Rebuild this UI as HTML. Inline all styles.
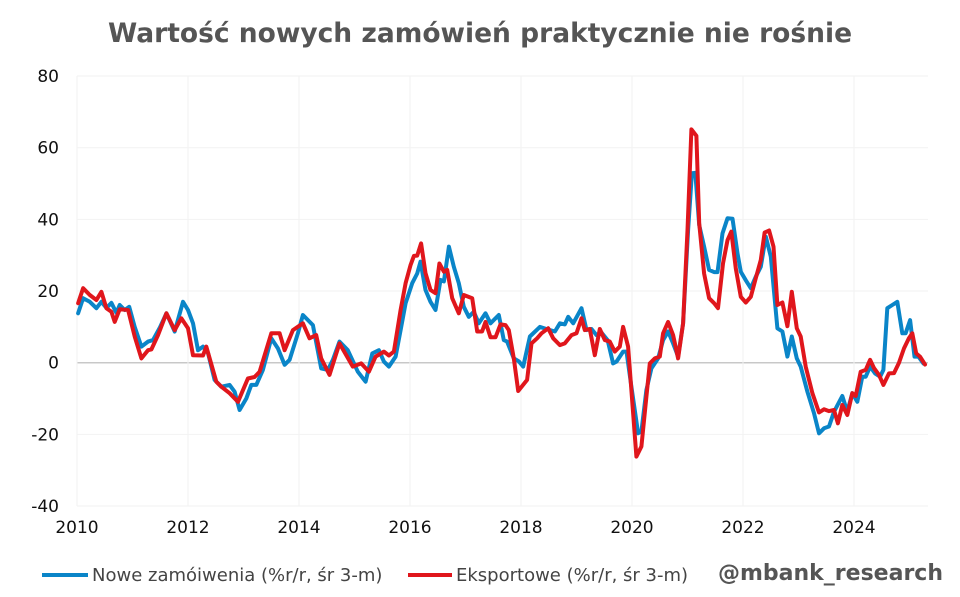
<!DOCTYPE html>
<html><head><meta charset="utf-8"><style>
body{margin:0;background:#fff;width:960px;height:592px;overflow:hidden;font-family:"Liberation Sans",sans-serif}
</style></head><body>
<svg id="c" width="960" height="592" viewBox="0 0 960 592">
<text x="480" y="42" text-anchor="middle" font-family="DejaVu Sans, Liberation Sans, sans-serif" font-weight="bold" font-size="26.5" fill="#555">Wartość nowych zamówień praktycznie nie rośnie</text>
<g id="grid"></g><g id="axes"></g><g id="series"></g>
<g>
<line x1="42" y1="575" x2="88" y2="575" stroke="#0a85c8" stroke-width="4"/>
<text x="92" y="581" font-size="18" fill="#444" font-family="DejaVu Sans, Liberation Sans, sans-serif">Nowe zamóiwenia (%r/r, śr 3-m)</text>
<line x1="408" y1="575" x2="452" y2="575" stroke="#e0161c" stroke-width="4"/>
<text x="456" y="581" font-size="18" fill="#444" font-family="DejaVu Sans, Liberation Sans, sans-serif">Eksportowe (%r/r, śr 3-m)</text>
</g>
<text x="943" y="580" text-anchor="end" font-size="22" font-weight="bold" fill="#555" font-family="DejaVu Sans, Liberation Sans, sans-serif">@mbank_research</text>
</svg>
<script>
const yTicks=[80,60,40,20,0,-20,-40];
const xTicks=[2010,2012,2014,2016,2018,2020,2022,2024];
const nowDates=[2010.02,2010.11,2010.23,2010.35,2010.44,2010.53,2010.62,2010.71,2010.77,2010.86,2010.94,2011.04,2011.16,2011.28,2011.37,2011.49,2011.61,2011.76,2011.91,2012.0,2012.09,2012.18,2012.27,2012.36,2012.48,2012.6,2012.75,2012.84,2012.93,2013.05,2013.14,2013.23,2013.35,2013.5,2013.62,2013.74,2013.83,2013.98,2014.07,2014.25,2014.4,2014.52,2014.61,2014.73,2014.88,2015.06,2015.2,2015.32,2015.44,2015.53,2015.62,2015.74,2015.83,2015.92,2016.04,2016.13,2016.19,2016.28,2016.37,2016.46,2016.55,2016.61,2016.7,2016.79,2016.88,2016.97,2017.06,2017.15,2017.24,2017.36,2017.45,2017.6,2017.69,2017.75,2017.87,2017.96,2018.04,2018.16,2018.34,2018.52,2018.61,2018.7,2018.79,2018.85,2018.94,2019.09,2019.18,2019.27,2019.36,2019.45,2019.56,2019.66,2019.72,2019.84,2019.9,2019.99,2020.11,2020.17,2020.26,2020.35,2020.47,2020.56,2020.65,2020.74,2020.83,2020.92,2021.01,2021.08,2021.14,2021.21,2021.3,2021.39,2021.48,2021.54,2021.63,2021.72,2021.81,2021.9,2021.96,2022.05,2022.14,2022.23,2022.32,2022.41,2022.5,2022.62,2022.71,2022.8,2022.88,2022.97,2023.04,2023.16,2023.28,2023.37,2023.46,2023.55,2023.64,2023.79,2023.88,2023.97,2024.06,2024.15,2024.21,2024.29,2024.38,2024.47,2024.53,2024.6,2024.69,2024.78,2024.87,2024.93,2025.01,2025.09,2025.16,2025.25];
const nowValues=[13.8,18,17,15.2,17,15.3,16.7,13.9,16.1,14.7,15.6,10,4.5,5.9,6.3,9.7,13.8,8.7,17,14.7,11,3.5,4.5,2.7,-4.8,-6.7,-6.2,-8.1,-13.2,-10,-6.2,-6.2,-2,6.8,4,-0.6,0.8,8.2,13.3,10.5,-1.6,-2,0.8,5.9,3.5,-2.5,-5.3,2.6,3.5,0.3,-1.1,1.7,9.1,16.6,22.2,24.9,28.2,20.3,17,14.7,23.1,22.7,32.4,26.8,22.2,15.6,12.8,14.2,11,13.8,11,13.3,6.3,5.9,1.2,0.4,-1.1,7.3,10,9.1,8.7,11,10.7,12.8,11,15.2,9.1,9.4,7.7,8.4,6.3,-0.2,0.3,3.1,3.1,-6.7,-19.7,-19.2,-7.6,-1.6,1.2,6.3,8.7,5.4,1.7,11,37,52.9,53,38.4,32.4,25.9,25.3,25.3,36.1,40.3,40.2,30.5,25.4,23,20.8,24,26.8,35.2,29.6,9.6,8.7,1.7,7.3,1.2,-1.1,-8.1,-14.1,-19.7,-18.3,-17.8,-13.7,-9.3,-13.7,-8.5,-10.9,-3.9,-3.9,-1.1,-3,-3.9,-2,15.2,16.1,17,8.2,8.2,11.9,1.7,1.7,-0.2];
const expDates=[2010.02,2010.11,2010.23,2010.35,2010.44,2010.53,2010.62,2010.68,2010.77,2010.92,2011.04,2011.16,2011.28,2011.34,2011.46,2011.61,2011.76,2011.88,2012.0,2012.09,2012.27,2012.33,2012.51,2012.6,2012.75,2012.9,2013.08,2013.2,2013.29,2013.5,2013.65,2013.74,2013.89,2014.07,2014.19,2014.31,2014.4,2014.55,2014.73,2014.97,2015.12,2015.26,2015.38,2015.53,2015.62,2015.71,2015.83,2015.92,2016.01,2016.07,2016.13,2016.2,2016.28,2016.37,2016.46,2016.53,2016.61,2016.67,2016.76,2016.88,2016.97,2017.12,2017.21,2017.3,2017.36,2017.45,2017.54,2017.63,2017.72,2017.78,2017.87,2017.95,2018.11,2018.19,2018.29,2018.37,2018.49,2018.58,2018.7,2018.79,2018.91,2019.0,2019.09,2019.15,2019.24,2019.33,2019.42,2019.51,2019.6,2019.69,2019.78,2019.84,2019.93,2020.08,2020.17,2020.26,2020.32,2020.41,2020.5,2020.56,2020.65,2020.74,2020.83,2020.92,2021.0,2021.07,2021.16,2021.21,2021.3,2021.39,2021.48,2021.55,2021.64,2021.72,2021.79,2021.87,2021.96,2022.05,2022.14,2022.23,2022.32,2022.39,2022.47,2022.55,2022.62,2022.71,2022.8,2022.88,2022.97,2023.04,2023.13,2023.25,2023.37,2023.46,2023.55,2023.64,2023.71,2023.79,2023.88,2023.97,2024.03,2024.12,2024.21,2024.29,2024.36,2024.45,2024.53,2024.63,2024.72,2024.81,2024.9,2024.99,2025.05,2025.12,2025.19,2025.28];
const expValues=[16.6,20.8,18.9,17.5,19.8,15.2,14.2,11.4,14.9,14.7,7.3,1.2,3.5,3.7,7.7,13.8,9.1,12.4,9.6,2.1,2,4.5,-5.3,-6.7,-8.5,-10.9,-4.4,-4,-2.5,8.2,8.2,3.5,9.1,11,6.8,7.7,1.2,-3.4,5.4,-1.1,-0.2,-2.5,1.7,3.1,2,3.1,14.7,22.2,27.3,29.8,29.9,33.3,25,20.3,19.4,27.7,25.4,25.9,18,13.8,18.9,18,8.7,8.7,11.4,7.1,7.1,10.7,10.5,9.1,1.2,-7.9,-4.8,5.4,6.8,8.2,9.6,6.8,4.9,5.4,7.7,8.2,12.4,9.1,9.4,2.1,9.4,6.3,5.9,3.1,4.5,10,4.5,-26.2,-23.4,-9.5,-0.2,1.2,1.7,8.2,11.4,7.7,1.2,11,37,65.1,63.3,38.9,24.9,18,16.6,15.2,27.7,34.2,36.6,26.3,18.4,16.8,18.4,23.6,28.7,36.3,36.9,32.4,16.1,16.8,10.2,19.8,9.6,7.3,-1.1,-8.5,-13.9,-13,-13.5,-13.2,-16.9,-11.8,-14.6,-8.5,-9.3,-2.5,-2,0.8,-1.5,-3.4,-6.2,-3,-2.9,0,4,6.8,8.2,2.6,1.7,-0.5];

const NS="http://www.w3.org/2000/svg";
const X0=77,PX=55.5,Y0=362.7,PY=3.583;
const xs=t=>X0+(t-2010)*PX;
const ys=v=>Y0-v*PY;
const grid=document.getElementById('grid'),axes=document.getElementById('axes'),ser=document.getElementById('series');
function mk(tag,attrs,parent){const e=document.createElementNS(NS,tag);for(const k in attrs)e.setAttribute(k,attrs[k]);parent.appendChild(e);return e;}
yTicks.forEach(v=>{
  const l=mk('line',{x1:77,x2:928,y1:ys(v),y2:ys(v),stroke:v===0?'#c8c8c8':'#f2f2f2','stroke-width':v===0?1.5:1},grid);
  
  
  const t=mk('text',{x:59,y:ys(v)+6,'text-anchor':'end','font-size':17,fill:'#111','font-family':'DejaVu Sans, Liberation Sans, sans-serif'},axes);
  t.textContent=v;
  
  
});
xTicks.forEach(y=>{
  const l=mk('line',{x1:xs(y),x2:xs(y),y1:76,y2:506,stroke:'#f2f2f2','stroke-width':1},grid);
  
  
  const t=mk('text',{x:xs(y),y:533,'text-anchor':'middle','font-size':17,fill:'#111','font-family':'DejaVu Sans, Liberation Sans, sans-serif'},axes);
  t.textContent=y;
  
  
});
function line(d,v,color,name){
  const p=mk('path',{d:d.map((t,i)=>(i?'L':'M')+xs(t).toFixed(1)+','+ys(v[i]).toFixed(1)).join(''),fill:'none',stroke:color,'stroke-width':4,'stroke-linejoin':'round','stroke-linecap':'round'},ser);
  
  
}
line(nowDates,nowValues,'#0a85c8','series-nowe-zamowienia');
line(expDates,expValues,'#e0161c','series-eksportowe');
</script>
</body></html>
